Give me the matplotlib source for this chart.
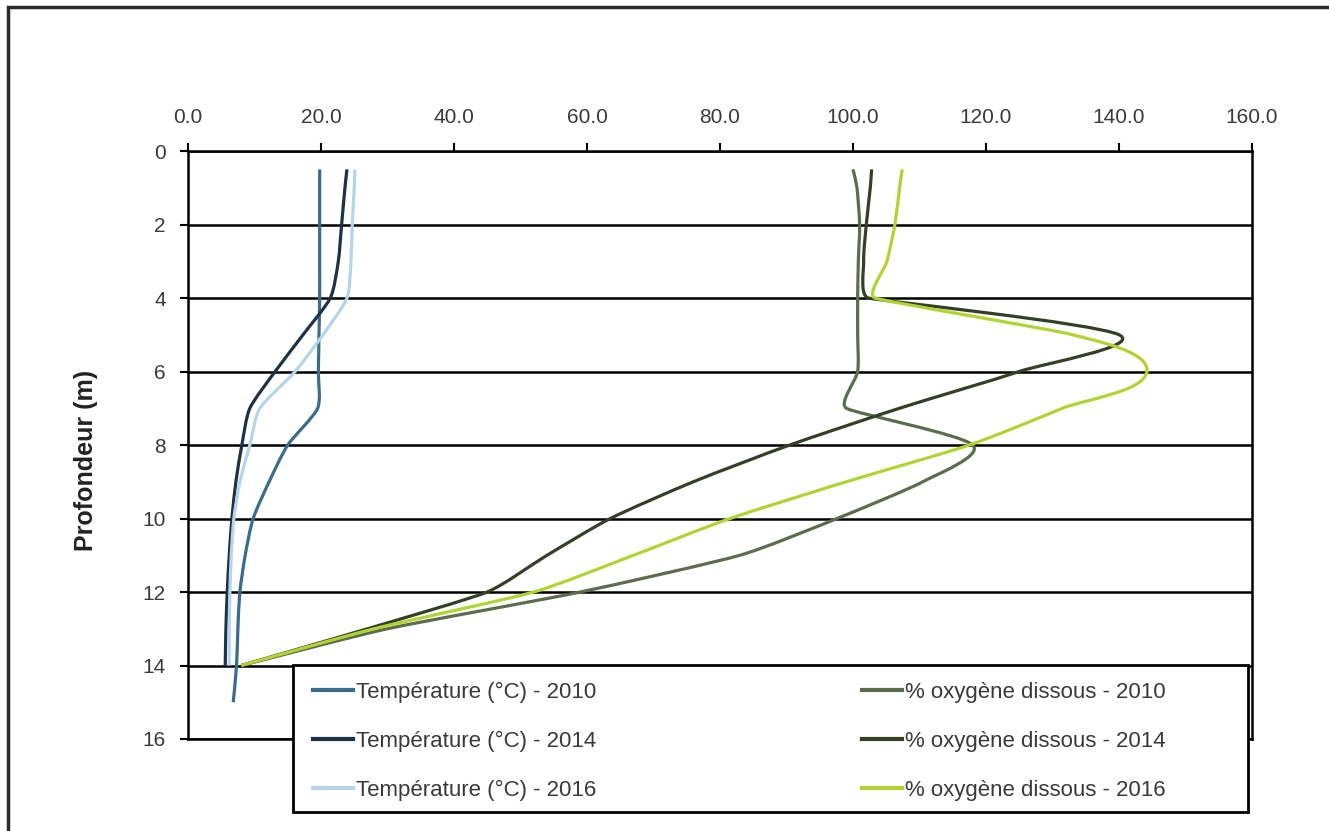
import numpy as np
import matplotlib
matplotlib.use('Agg')
from matplotlib import pyplot as plt
from matplotlib.path import Path
from matplotlib.patches import PathPatch, Rectangle
from matplotlib.lines import Line2D

plt.rcParams['font.family'] = ['Liberation Sans', 'DejaVu Sans']

# Profils verticaux (profondeur en m)
depth = [0.5, 1, 2, 3, 4, 5, 6, 7, 8, 9, 10, 11, 12, 13, 14]
depth_t2010 = [0.5, 1, 2, 3, 4, 5, 6, 7, 8, 9, 10, 11, 12, 13, 14, 15]

temp_2010 = [19.8, 19.8, 19.8, 19.8, 19.8, 19.7, 19.6, 19.5, 15.0, 12.2, 9.8,
             8.6, 7.8, 7.5, 7.3, 6.8]
temp_2014 = [23.9, 23.6, 23.1, 22.6, 21.4, 17.3, 13.1, 9.3, 8.1, 7.2, 6.6,
             6.2, 5.9, 5.7, 5.6]
temp_2016 = [25.1, 25.0, 24.7, 24.5, 23.9, 20.3, 16.1, 10.8, 9.3, 7.8, 6.9,
             6.5, 6.3, 6.2, 6.2]

oxy_2010 = [100.0, 100.6, 101.0, 100.8, 100.7, 100.7, 100.7, 99.0, 118.0,
            110.5, 97.6, 83.0, 59.0, 30.0, 8.0]
oxy_2014 = [102.8, 102.6, 102.0, 101.6, 102.3, 140.0, 125.0, 107.0, 90.5,
            76.0, 63.5, 54.0, 45.0, 27.0, 8.0]
oxy_2016 = [107.4, 107.0, 106.3, 105.1, 103.3, 133.0, 144.2, 131.5, 117.5,
            99.0, 81.5, 67.0, 52.0, 28.0, 8.0]

labels = ['Température (°C) - 2010', 'Température (°C) - 2014',
          'Température (°C) - 2016', '% oxygène dissous - 2010',
          '% oxygène dissous - 2014', '% oxygène dissous - 2016']
colors = ['#3a6c8c', '#1e3246', '#b6d4ea', '#5d6c4c', '#343f26', '#b3d334']

x_ticks = [0, 20, 40, 60, 80, 100, 120, 140, 160]
y_ticks = [0, 2, 4, 6, 8, 10, 12, 14, 16]

W, H = 1329, 831
ax_box = (188, 151, 1252, 739)  # gauche, haut, droite, bas (pixels)
sx = (ax_box[2] - ax_box[0]) / 160.0
sy = (ax_box[3] - ax_box[1]) / 16.0


def smooth_path(x, y):
    # courbe lissée type tableur : Bezier cubique, tangentes calculées à l'écran
    scale = np.array([sx, sy])
    pts = np.column_stack([x, y]).astype(float) * scale
    n = len(pts)
    seg_len = np.hypot(*np.diff(pts, axis=0).T)
    tang = np.zeros_like(pts)
    for i in range(n):
        d = pts[min(i + 1, n - 1)] - pts[max(i - 1, 0)]
        tang[i] = d / np.hypot(*d)
    # longueur des poignées limitée par le segment le plus court autour du point
    reach = np.array([min(seg_len[max(i - 1, 0)], seg_len[min(i, n - 2)])
                      for i in range(n)]) / 4
    verts = [pts[0]]
    codes = [Path.MOVETO]
    for i in range(n - 1):
        verts += [pts[i] + tang[i] * reach[i],
                  pts[i + 1] - tang[i + 1] * reach[i + 1], pts[i + 1]]
        codes += [Path.CURVE4] * 3
    return Path(np.array(verts) / scale, codes)


fig = plt.figure(figsize=(W / 100, H / 100), dpi=100)
ax = fig.add_axes([ax_box[0] / W, 1 - ax_box[3] / H,
                   (ax_box[2] - ax_box[0]) / W, (ax_box[3] - ax_box[1]) / H])

series = [(temp_2010, depth_t2010), (temp_2014, depth), (temp_2016, depth),
          (oxy_2010, depth), (oxy_2014, depth), (oxy_2016, depth)]
for (vals, d), c in zip(series, colors):
    ax.add_patch(PathPatch(smooth_path(vals, d), fill=False, edgecolor=c,
                           lw=2.3, joinstyle='round', capstyle='butt', zorder=3))

ax.set_xlim(0, 160)
ax.set_ylim(16, 0)
ax.xaxis.tick_top()
ax.set_xticks(x_ticks)
ax.set_xticklabels(['{:.1f}'.format(v) for v in x_ticks])
ax.set_yticks(y_ticks)
ax.tick_params(axis='both', direction='out', length=6, width=1.5,
               colors='black', labelcolor='#3a3a3a', labelsize=15)
ax.tick_params(axis='x', pad=11)
ax.tick_params(axis='y', pad=10)
ax.yaxis.grid(True, color='black', lw=1.8)
for s in ax.spines.values():
    s.set_linewidth(1.8)
    s.set_color('black')

ax.set_ylabel('Profondeur (m)', fontsize=18, fontweight='bold', color='#222222')
ax.yaxis.set_label_coords((98 - 188) / 1064, (739 - 460) / 588)

# cadre de la légende
fig.patches.append(Rectangle((293 / W, 1 - 812 / H), 955 / W, 147 / H,
                             transform=fig.transFigure, facecolor='white',
                             edgecolor='black', lw=2, zorder=2))

handles = [Line2D([], [], color=c, lw=3) for c in colors]
leg = fig.legend(handles, labels, ncol=2, loc='upper left',
                 bbox_to_anchor=(313 / W, 1 - 682 / H), frameon=False,
                 borderpad=0, borderaxespad=0, fontsize=16,
                 handlelength=1.8, handletextpad=0.15, labelspacing=1.25,
                 columnspacing=11.95)
for t in leg.get_texts():
    t.set_color('#3a3a3a')

# cadre du graphique
fig.patches.append(Rectangle((8 / W, -0.1), 1.2, 1.1 - 7 / H,
                             transform=fig.transFigure, fill=False,
                             edgecolor='#2a2a2a', lw=2.5, zorder=2))

fig.savefig('out.png', dpi=100, facecolor='white')
